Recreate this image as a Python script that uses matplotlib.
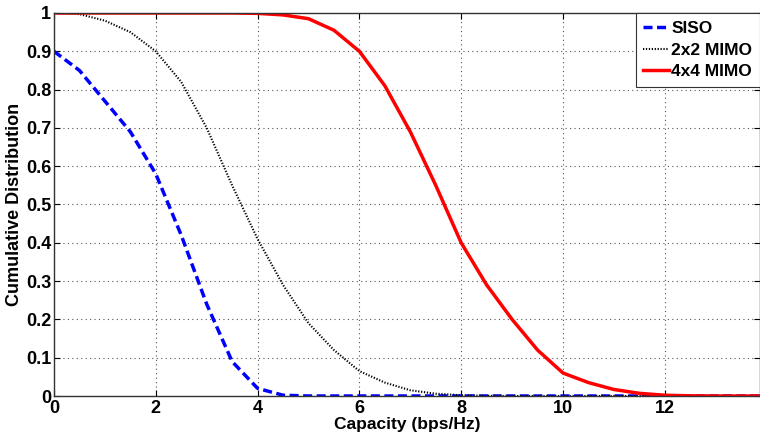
import numpy as np
import matplotlib
matplotlib.use("Agg")
from matplotlib import pyplot as plt

# Datos
capacity = [0, 0.5, 1.0, 1.5, 2.0, 2.5, 3.0, 3.5, 4.0, 4.5, 5.0, 5.5, 6.0, 6.5,
            7.0, 7.5, 8.0, 8.5, 9.0, 9.5, 10.0, 10.5, 11.0, 11.5, 12.0, 12.5, 13.0, 14.0]
siso = [0.9, 0.85, 0.77, 0.69, 0.58, 0.42, 0.24, 0.09, 0.02, 0.002, 0, 0, 0, 0,
        0, 0, 0, 0, 0, 0, 0, 0, 0, 0, 0, 0, 0, 0]
mimo_2x2 = [1.0, 0.997, 0.98, 0.95, 0.9, 0.82, 0.70, 0.55, 0.41, 0.29, 0.19, 0.12, 0.065, 0.035,
            0.015, 0.006, 0.002, 0.0005, 0, 0, 0, 0, 0, 0, 0, 0, 0, 0]
mimo_4x4 = [1.0, 1.0, 1.0, 1.0, 1.0, 1.0, 1.0, 1.0, 0.999, 0.995, 0.985, 0.955, 0.90, 0.81,
            0.69, 0.55, 0.40, 0.29, 0.20, 0.12, 0.06, 0.035, 0.017, 0.007, 0.002, 0.0005, 0, 0]
labels = ["SISO", "2x2 MIMO", "4x4 MIMO"]

plt.rcParams['font.family'] = ['Liberation Sans', 'DejaVu Sans']
plt.rcParams['font.weight'] = 'bold'

fig = plt.figure(figsize=(7.6, 4.4), dpi=100)
ax = fig.add_axes([0.071, 0.1, 0.929, 0.8705])

ax.plot(capacity, siso, '--', color='#0000ff', linewidth=2.5, dashes=(2.6, 1.3), label=labels[0])
ax.plot(capacity, mimo_2x2, ':', color='black', linewidth=1.5, dashes=(0.6, 0.8), label=labels[1])
ax.plot(capacity, mimo_4x4, '-', color='#ff0000', linewidth=2.5, label=labels[2])

ax.set_xlim(0, 13.87)
ax.set_ylim(0, 1)
ax.set_xticks(range(0, 13, 2))
ax.set_yticks(np.arange(0, 1.01, 0.1))
ax.set_yticklabels(['0', '0.1', '0.2', '0.3', '0.4', '0.5', '0.6', '0.7', '0.8', '0.9', '1'])
ax.tick_params(direction='in', top=True, right=True, labelsize=13, length=4, width=0.8, pad=2)
ax.tick_params(axis='x', pad=3)
for s in ax.spines.values():
    s.set_color('#333333')
    s.set_linewidth(1.0)
ax.grid(True, linestyle=(0, (1, 3)), color='#555555', linewidth=0.8)

ax.set_xlabel("Capacity (bps/Hz)", fontsize=12.5, fontweight='bold', labelpad=0)
ax.set_ylabel("Cumulative Distribution", fontsize=13, fontweight='bold', labelpad=2)

leg = ax.legend(loc='upper right', fontsize=12.5, fancybox=False, framealpha=1,
                edgecolor='#333333', handlelength=1.45, handletextpad=0.15,
                borderpad=0.45, labelspacing=0.38, borderaxespad=0)
leg.get_frame().set_linewidth(0.8)

fig.savefig("out.png", dpi=100)
